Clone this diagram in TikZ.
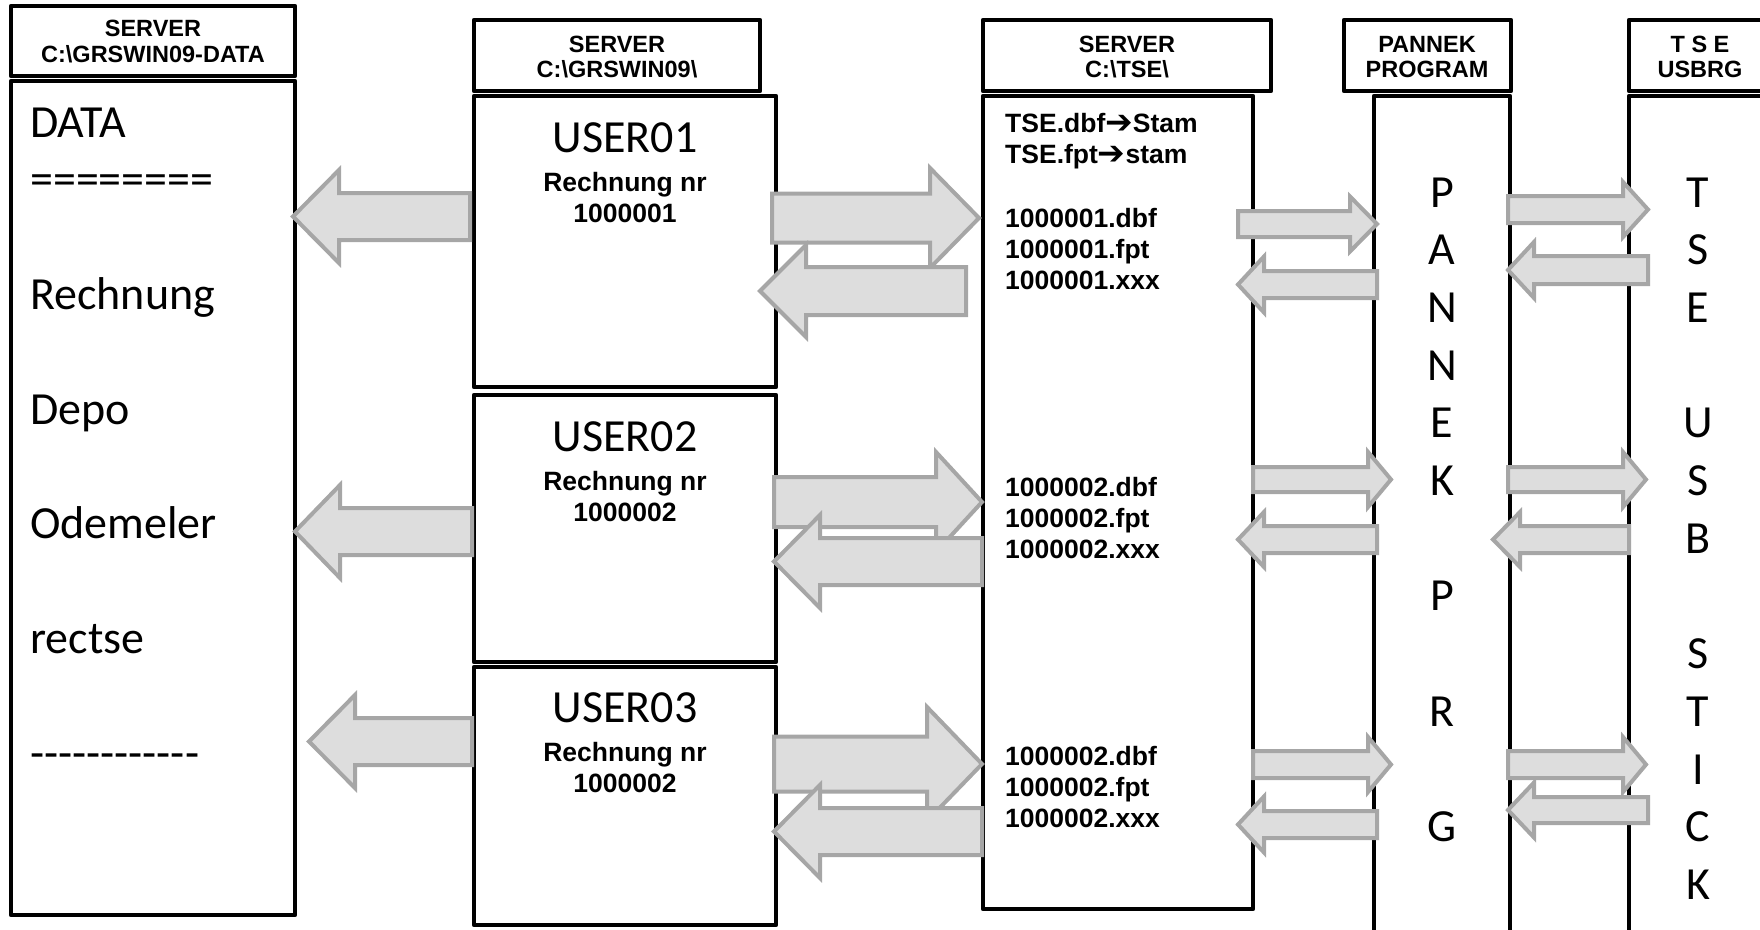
\documentclass[tikz,border=0pt]{standalone}
\usepackage{fontspec}
\setmainfont{Carlito}
\newfontfamily\arialfont{Liberation Sans}
\newfontfamily\dejavufont{DejaVu Sans}
\usetikzlibrary{positioning}
\definecolor{arrowgray}{RGB}{166,166,166}
\definecolor{arrowfill}{RGB}{221,221,221}

\tikzset{
  colbox/.style={draw=black, line width=4.5pt, line join=round, fill=white},
  fatarr/.style={draw=arrowgray, fill=arrowfill, line width=4pt, line join=miter},
  hdr/.style={font=\arialfont\bfseries\fontsize{23.5}{26}\selectfont, inner sep=0pt},
  big/.style={font=\fontsize{46}{50}\selectfont, inner sep=0pt},
  small/.style={font=\arialfont\bfseries\fontsize{26.5}{31}\selectfont, inner sep=0pt},
}
% tail x, head base x, tip x, y, shaft half, head half
\newcommand{\fatarrow}[6]{%
  \draw[fatarr] (#1,{#4-#5}) -- (#2,{#4-#5}) -- (#2,{#4-#6}) -- (#3,#4)
    -- (#2,{#4+#6}) -- (#2,{#4+#5}) -- (#1,{#4+#5}) -- cycle;}
\newcommand{\dashes}{-\kern0pt-\kern0pt-\kern0pt-\kern0pt-\kern0pt-\kern0pt-\kern0pt-\kern0pt-\kern0pt-\kern0pt-\kern0pt-}
\newcommand{\toarr}{{\dejavufont\fontsize{33}{33}\selectfont\raisebox{-1.5pt}{➔}}}

\begin{document}
\begin{tikzpicture}[x=1pt,y=-1pt]
\useasboundingbox (0,0) rectangle (1760,929);
\clip (0,0) rectangle (1760,929);

% Column frames
\draw[colbox] (11,6) rectangle (295,76);
\draw[colbox] (11,81) rectangle (295,915);
\draw[colbox] (474,20) rectangle (760,91);
\draw[colbox] (474,96) rectangle (776,387);
\draw[colbox] (474,395) rectangle (776,662);
\draw[colbox] (474,667) rectangle (776,925);
\draw[colbox] (983,20) rectangle (1271,91);
\draw[colbox] (983,96) rectangle (1253,909);
\draw[colbox] (1344,20) rectangle (1511,91);
\draw[colbox] (1374,96) rectangle (1510,940);
\draw[colbox] (1629,20) rectangle (1771,91);
\draw[colbox] (1629,96) rectangle (1771,940);

% Users -> data
\fatarrow{470}{339}{293}{216.5}{23.5}{46.5}
\fatarrow{472}{340}{295}{531.5}{23.5}{46.5}
\fatarrow{472}{355}{309}{741.5}{23.5}{46.5}

% Users <-> TSE
\fatarrow{772}{930}{979}{218}{24.5}{50}
\fatarrow{966}{806}{760}{291}{24}{46}
\fatarrow{774}{936}{982}{502}{25}{50}
\fatarrow{982}{820}{774}{561.5}{23.5}{46.5}
\fatarrow{774}{927}{982}{764}{27.5}{57}
\fatarrow{982}{820}{774}{831.5}{23.5}{46.5}

% TSE <-> Pannek
\fatarrow{1238}{1350}{1377}{224}{13}{27.5}
\fatarrow{1377}{1264}{1238}{284.5}{13.5}{28}
\fatarrow{1253}{1368}{1391}{479.5}{12.5}{27.5}
\fatarrow{1377}{1264}{1238}{539.5}{13.5}{27.5}
\fatarrow{1253}{1368}{1391}{764.5}{13.5}{27.5}
\fatarrow{1377}{1264}{1238}{824.5}{13.5}{28}

% Pannek <-> USB stick
\fatarrow{1508}{1623}{1648}{209.5}{13.5}{27.5}
\fatarrow{1648}{1534}{1508}{270}{14}{28}
\fatarrow{1508}{1623}{1646}{479.5}{12.5}{27.5}
\fatarrow{1629}{1520}{1493}{539.5}{13.5}{27.5}
\fatarrow{1508}{1623}{1646}{764.5}{13.5}{27.5}
\fatarrow{1648}{1534}{1508}{810}{13}{27.5}

% Headers
\node[hdr, anchor=base] (h1a) at (153,36) {SERVER};
\node[hdr, anchor=base] (h1b) at (153,62) {C:\textbackslash GRSWIN09-DATA};
\node[hdr, anchor=base] (h2a) at (617,52) {SERVER};
\node[hdr, anchor=base] (h2b) at (617,77) {C:\textbackslash GRSWIN09\textbackslash};
\node[hdr, anchor=base] (h3a) at (1127,52) {SERVER};
\node[hdr, anchor=base] (h3b) at (1127,77) {C:\textbackslash TSE\textbackslash};
\node[hdr, anchor=base] (h4a) at (1427,52) {PANNEK};
\node[hdr, anchor=base] (h4b) at (1427,77) {PROGRAM};
\node[hdr, anchor=base] (h5a) at (1700,52) {T S E};
\node[hdr, anchor=base] (h5b) at (1700,77) {USBRG};

% Data list
\foreach \txt/\n in {DATA/1,========/2,Rechnung/4,Depo/6,Odemeler/8,rectse/10,\dashes/12}
  \node[big, anchor=base west] (data\n) at (30,{137+(\n-1)*57.4}) {\txt};

% User boxes
\foreach \u/\nr/\y in {01/1000001/152, 02/1000002/451, 03/1000002/722} {
  \node[big, anchor=base] (user\u) at (625,\y) {USER\u};
  \node[small, anchor=base] (rech\u) at (625,{\y+39}) {Rechnung nr};
  \node[small, anchor=base] (nr\u) at (625,{\y+70}) {\nr};
}

% TSE files
\node[small, anchor=base west] (tse1) at (1005,132) {TSE.dbf\toarr Stam};
\node[small, anchor=base west] (tse2) at (1005,163) {TSE.fpt\toarr stam};
\foreach \r/\fn/\y in {1/1000001/227, 2/1000002/496, 3/1000002/765} {
  \node[small, anchor=base west] (dbf\r) at (1005,\y) {\fn.dbf};
  \node[small, anchor=base west] (fpt\r) at (1005,{\y+31}) {\fn.fpt};
  \node[small, anchor=base west] (xxx\r) at (1005,{\y+62}) {\fn.xxx};
}

% Vertical letters
\foreach \ch/\n in {P/1,A/2,N/3,N/4,E/5,K/6,P/8,R/10,G/12}
  \node[big, anchor=base] (pan\n) at (1442,{207+(\n-1)*57.7}) {\ch};
\foreach \ch/\n in {T/1,S/2,E/3,U/5,S/6,B/7,S/9,T/10,I/11,C/12,K/13}
  \node[big, anchor=base] (usb\n) at (1698,{207+(\n-1)*57.7}) {\ch};
\end{tikzpicture}
\end{document}
